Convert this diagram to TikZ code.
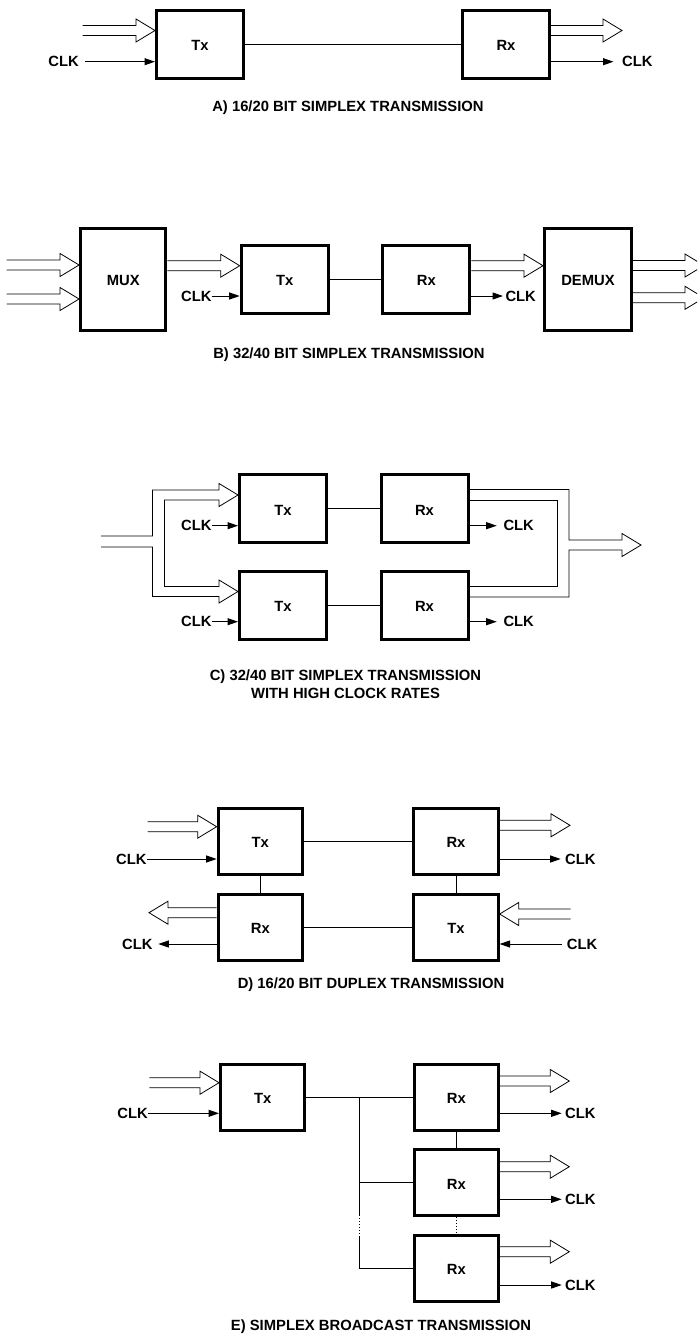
\documentclass[tikz,border=0pt]{standalone}
\usepackage{fontspec}
\setmainfont{Liberation Sans}
\usetikzlibrary{arrows.meta,calc}
\newcommand\dfnt{\fontsize{14.8}{17.5}\selectfont\bfseries}
\newcommand\busarrow[3]{%
  \draw[bus] ($#1+(0,-5)$) -- ($#2+({-19*(#3)},-5)$) -- ($#2+({-19*(#3)},-11.5)$) -- #2 -- ($#2+({-19*(#3)},11.5)$) -- ($#2+({-19*(#3)},5)$) -- ($#1+(0,5)$);}
\begin{document}
\begin{tikzpicture}[x=1pt,y=-1pt,
  box/.style={draw,line width=3pt,minimum width=87pt,minimum height=68pt,inner sep=0pt,font=\dfnt,text height=12.5pt,text depth=0pt},
  sbox/.style={box,minimum width=84.3pt,minimum height=65.7pt},
  wire/.style={line width=1pt},
  bus/.style={line width=0.8pt,line join=miter},
  clk/.style={line width=1pt,-{Triangle[length=10.5pt,width=7pt]}},
  lbl/.style={font=\dfnt,inner sep=0pt},
  captxt/.style={font=\dfnt,inner sep=0pt,align=center}]
\fill[white] (0,0) rectangle (697,1336);
\useasboundingbox (0,0) rectangle (697,1336);
\clip (0,0) rectangle (697,1336);

% ---------- A ----------
\node[box] (txA) at (200,44.5) {Tx};
\node[box] (rxA) at (506,44.5) {Rx};
\draw[wire] (txA) -- (rxA);
\coordinate (inA) at (82.7,30.5);
\busarrow{(inA)}{(inA -| txA.west)}{1}
\coordinate (outA) at (622,30.5);
\busarrow{(outA -| rxA.east)}{(outA)}{1}
\node[lbl,anchor=east] (cA1) at (79,61.7) {CLK};
\draw[clk] ($(cA1.east)+(6,0)$) -- (cA1.east -| txA.west);
\node[lbl,anchor=west] (cA2) at (622,61.7) {CLK};
\draw[clk] (cA2.west -| rxA.east) -- ($(cA2.west)+(-8.5,0)$);
\node[captxt] (capA) at (348,108) {A) 16/20 BIT SIMPLEX TRANSMISSION};

% ---------- B ----------
\node[box,minimum width=85.3pt,minimum height=102.6pt] (mux) at (123.2,279.5) {MUX};
\node[box] (txB) at (284.7,279.2) {Tx};
\node[box] (rxB) at (426.3,279.2) {Rx};
\node[box,minimum width=87pt,minimum height=102.6pt] (demux) at (588,279.5) {DEMUX};
\draw[wire] (txB) -- (rxB);
\coordinate (inB1) at (6.7,265);
\busarrow{(inB1)}{(inB1 -| mux.west)}{1}
\coordinate (inB2) at (6.7,299);
\busarrow{(inB2)}{(inB2 -| mux.west)}{1}
\coordinate (mB) at (0,265.7);
\busarrow{(mB -| mux.east)}{(mB -| txB.west)}{1}
\busarrow{(mB -| rxB.east)}{(mB -| demux.west)}{1}
\coordinate (oB1) at (704,265.5);
\busarrow{(oB1 -| demux.east)}{(oB1)}{1}
\coordinate (oB2) at (704,297.8);
\busarrow{(oB2 -| demux.east)}{(oB2)}{1}
\node[lbl,anchor=east] (cB1) at (211.7,296) {CLK};
\draw[clk] (cB1.east) -- (cB1.east -| txB.west);
\node[lbl,anchor=west] (cB2) at (505.3,296) {CLK};
\draw[clk] (cB2.west -| rxB.east) -- ($(cB2.west)+(-2.3,0)$);
\node[captxt] (capB) at (349,355) {B) 32/40 BIT SIMPLEX TRANSMISSION};

% ---------- C ----------
\node[box] (txC1) at (283,508.8) {Tx};
\node[box] (rxC1) at (424.5,508.8) {Rx};
\node[box] (txC2) at (283,605.3) {Tx};
\node[box] (rxC2) at (424.5,605.3) {Rx};
\draw[wire] (txC1) -- (rxC1);
\draw[wire] (txC2) -- (rxC2);
\coordinate (tC1) at (txC1.west |- 0,495);
\coordinate (tC2) at (txC2.west |- 0,591.5);
\coordinate (tC3) at (641,545);
\draw[bus] (101,536) -- (152.5,536) -- (152.5,490) -- (219,490) -- (219,483.5) -- (tC1)
  -- (219,506.5) -- (219,500) -- (164.5,500) -- (164.5,586.5) -- (219,586.5) -- (219,580)
  -- (tC2) -- (219,603) -- (219,596.5) -- (152.5,596.5) -- (152.5,547) -- (101,547);
\draw[bus] (rxC1.east |- 0,489.5) -- (569,489.5) -- (569,540) -- (622,540) -- (622,533.5)
  -- (tC3) -- (622,556.5) -- (622,550) -- (569,550) -- (569,597) -- (rxC2.east |- 0,597);
\draw[bus] (rxC1.east |- 0,500.5) -- (557,500.5) -- (557,586) -- (rxC2.east |- 0,586);
\node[lbl,anchor=east] (cC1) at (211.7,525.7) {CLK};
\draw[clk] (cC1.east) -- (cC1.east -| txC1.west);
\node[lbl,anchor=east] (cC2) at (211.7,621.7) {CLK};
\draw[clk] (cC2.east) -- (cC2.east -| txC2.west);
\node[lbl,anchor=west] (cC3) at (503.3,525.7) {CLK};
\draw[clk] (cC3.west -| rxC1.east) -- ($(cC3.west)+(-6.6,0)$);
\node[lbl,anchor=west] (cC4) at (503.3,621.7) {CLK};
\draw[clk] (cC4.west -| rxC2.east) -- ($(cC4.west)+(-6.6,0)$);
\node[captxt] (capC) at (345.5,684.3) {C) 32/40 BIT SIMPLEX TRANSMISSION\\WITH HIGH CLOCK RATES};

% ---------- D ----------
\node[sbox] (txD1) at (260.3,841.7) {Tx};
\node[sbox] (rxD1) at (456,841.7) {Rx};
\node[sbox] (rxD2) at (260.3,927.2) {Rx};
\node[sbox] (txD2) at (456,927.2) {Tx};
\draw[wire] (txD1) -- (rxD1);
\draw[wire] (rxD2) -- (txD2);
\draw[wire] (txD1) -- (rxD2);
\draw[wire] (rxD1) -- (txD2);
\coordinate (iD1) at (147.7,826.7);
\busarrow{(iD1)}{(iD1 -| txD1.west)}{1}
\coordinate (oD1) at (570,825.3);
\busarrow{(oD1 -| rxD1.east)}{(oD1)}{1}
\coordinate (oD2) at (149,912.7);
\busarrow{(oD2 -| rxD2.west)}{(oD2)}{-1}
\coordinate (iD2) at (570.7,914);
\busarrow{(iD2)}{(iD2 -| txD2.east)}{-1}
\node[lbl,anchor=east] (cD1) at (146.7,859) {CLK};
\draw[clk] (cD1.east) -- (cD1.east -| txD1.west);
\node[lbl,anchor=west] (cD2) at (565,859) {CLK};
\draw[clk] (cD2.west -| rxD1.east) -- ($(cD2.west)+(-4.3,0)$);
\node[lbl,anchor=east] (cD3) at (152.7,944) {CLK};
\draw[clk] (cD3.east -| rxD2.west) -- ($(cD3.east)+(5.6,0)$);
\node[lbl,anchor=west] (cD4) at (566.7,944) {CLK};
\draw[clk] ($(cD4.west)+(-5,0)$) -- (cD4.west -| txD2.east);
\node[captxt] (capD) at (371,985) {D) 16/20 BIT DUPLEX TRANSMISSION};

% ---------- E ----------
\node[sbox] (txE) at (262.7,1097.5) {Tx};
\node[sbox] (rxE1) at (456.3,1097.5) {Rx};
\node[sbox] (rxE2) at (456.3,1182.8) {Rx};
\node[sbox] (rxE3) at (456.3,1268.3) {Rx};
\draw[wire] (txE) -- (rxE1);
\coordinate (jE1) at (359.3,1097.5);
\coordinate (jE2) at (jE1 |- rxE2);
\coordinate (jE3) at (jE1 |- rxE3);
\coordinate (dE1) at (359.3,1215);
\coordinate (dE2) at (359.3,1236.7);
\draw[wire] (jE1) -- (dE1);
\draw[wire,dash pattern=on 1.2pt off 1.8pt] (dE1) -- (dE2);
\draw[wire] (dE2) -- (jE3) -- (rxE3.west);
\draw[wire] (jE2) -- (rxE2.west);
\draw[wire] (rxE1) -- (rxE2);
\draw[wire,dash pattern=on 1.2pt off 1.8pt] (rxE2) -- (rxE3);
\coordinate (iE) at (149.3,1082.7);
\busarrow{(iE)}{(iE -| txE.west)}{1}
\coordinate (oE1) at (569.3,1081);
\busarrow{(oE1 -| rxE1.east)}{(oE1)}{1}
\coordinate (oE2) at (569.3,1166.7);
\busarrow{(oE2 -| rxE2.east)}{(oE2)}{1}
\coordinate (oE3) at (569.3,1251.7);
\busarrow{(oE3 -| rxE3.east)}{(oE3)}{1}
\node[lbl,anchor=east] (cE0) at (148,1113.3) {CLK};
\draw[clk] (cE0.east) -- (cE0.east -| txE.west);
\node[lbl,anchor=west] (cE1) at (565,1113.3) {CLK};
\draw[clk] (cE1.west -| rxE1.east) -- ($(cE1.west)+(-3.3,0)$);
\node[lbl,anchor=west] (cE2) at (565,1199.3) {CLK};
\draw[clk] (cE2.west -| rxE2.east) -- ($(cE2.west)+(-3.3,0)$);
\node[lbl,anchor=west] (cE3) at (565,1285) {CLK};
\draw[clk] (cE3.west -| rxE3.east) -- ($(cE3.west)+(-3.3,0)$);
\node[captxt] (capE) at (381,1326.7) {E) SIMPLEX BROADCAST TRANSMISSION};
\end{tikzpicture}
\end{document}
